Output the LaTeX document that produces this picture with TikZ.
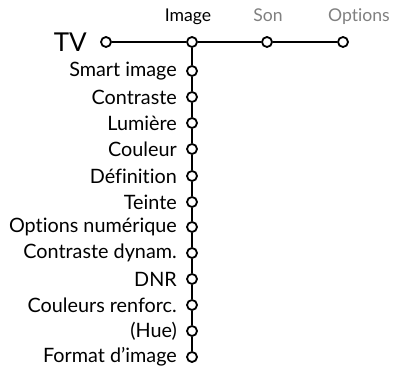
\documentclass[tikz,border=0pt]{standalone}
\usepackage{fontspec}
\setmainfont{Lato}[Ligatures=NoCommon]
\begin{document}
\begin{tikzpicture}[x=1pt,y=-1pt,
  dot/.style={circle,draw=black,fill=white,line width=1.8pt,inner sep=0pt,minimum size=10pt},
  item/.style={anchor=east,font=\fontsize{19.8}{22}\selectfont,inner sep=0pt},
  head/.style={anchor=base,font=\fontsize{17.6}{20}\selectfont,inner sep=0pt},
  grayhead/.style={head,text=black!50},
  ln/.style={line width=1.8pt}]
\useasboundingbox (0,0) rectangle (398,371);
\node[dot] (tv) at (106,42) {};
\node[dot] (image) at (192,42) {};
\node[dot] (son) at (267,42) {};
\node[dot] (options) at (343,42) {};
\node[anchor=east,font=\fontsize{26}{28}\selectfont,inner sep=0pt] (tvl) at (87,42) {TV};
\node[head] (imagel) at (188,22) {Image};
\node[grayhead] (sonl) at (268,22) {Son};
\node[grayhead] (optionsl) at (359,22) {Options};
\foreach \n/\y/\t in {a/71/Smart image,b/97/Contraste,c/123/Lumière,d/149/Couleur,e/176/Définition,f/202/Teinte,g/227/Options numérique,h/253/Contraste dynam.,i/279/DNR,j/305/Couleurs renforc.,k/331/(Hue),l/357/Format d’image}{
  \node[item] (\n l) at (177,\y) {\t};
}
\foreach \n/\y in {a/71,b/97,c/123,d/149,e/176,f/202,g/227,h/253,i/279,j/305,k/331,l/357}{
  \node[dot] (\n) at (192,\y) {};
}
\draw[ln] (tv) -- (image) -- (son) -- (options);
\draw[ln] (image) -- (a) -- (b) -- (c) -- (d) -- (e) -- (f) -- (g) -- (h) -- (i) -- (j) -- (k) -- (l);
\end{tikzpicture}
\end{document}
